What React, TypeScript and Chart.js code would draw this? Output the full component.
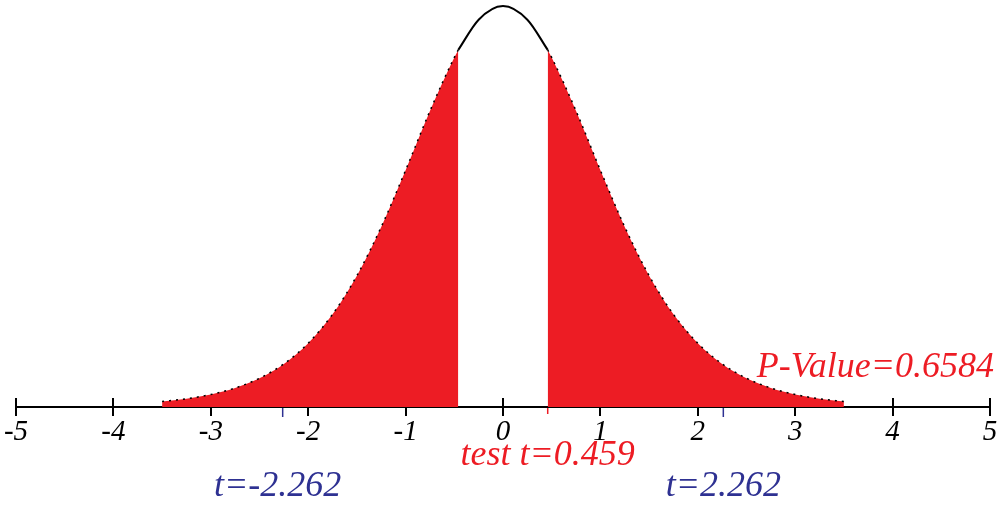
import React, { useEffect, useRef } from "react";
import { Chart, registerables } from "chart.js";

Chart.register(...registerables);

// Density curve (t distribution, 9 df)
const curveX = [-3.5, -3.25, -3, -2.75, -2.5, -2.25, -2, -1.75, -1.5, -1.25, -1, -0.75, -0.5, -0.459, -0.25, 0, 0.25, 0.459, 0.5, 0.75, 1, 1.25, 1.5, 1.75, 2, 2.25, 2.5, 2.75, 3, 3.25, 3.5];
const curveY = [0.0053, 0.008, 0.0121, 0.0184, 0.0278, 0.0417, 0.0617, 0.0897, 0.1271, 0.1743, 0.2291, 0.2865, 0.3383, 0.3456, 0.3748, 0.388, 0.3748, 0.3456, 0.3383, 0.2865, 0.2291, 0.1743, 0.1271, 0.0897, 0.0617, 0.0417, 0.0278, 0.0184, 0.0121, 0.008, 0.0053];
const tickValues = [-5, -4, -3, -2, -1, 0, 1, 2, 3, 4, 5];
const tickLabels = ["-5", "-4", "-3", "-2", "-1", "0", "1", "2", "3", "4", "5"];
const testT = 0.459;
const criticalT = 2.262;
const pValue = "0.6584";

const RED = "#ed1c24";
const BLUE = "#2e3192";

export default function App() {
  const ref = useRef<HTMLCanvasElement | null>(null);
  useEffect(() => {
    if (!ref.current) return;
    const pts = curveX.map((x, i) => ({ x, y: curveY[i] }));
    const left = pts.filter((p) => p.x <= -testT);
    const right = pts.filter((p) => p.x >= testT);
    const mid = pts.filter((p) => p.x >= -testT && p.x <= testT);

    const axisPlugin = {
      id: "axisPlugin",
      beforeDatasetsDraw(chart: any) {
        const ctx = chart.ctx;
        const xs = chart.scales.x;
        const ys = chart.scales.y;
        const y0 = ys.getPixelForValue(0);
        ctx.save();
        ctx.strokeStyle = "#000";
        ctx.lineWidth = 2;
        ctx.beginPath();
        ctx.moveTo(xs.getPixelForValue(-5), y0);
        ctx.lineTo(xs.getPixelForValue(5), y0);
        ctx.stroke();
        tickValues.forEach((v) => {
          const px = Math.round(xs.getPixelForValue(v));
          ctx.beginPath();
          ctx.moveTo(px, y0 - 9);
          ctx.lineTo(px, y0 + 9);
          ctx.stroke();
        });
        ctx.restore();
      },
      afterDatasetsDraw(chart: any) {
        const ctx = chart.ctx;
        const xs = chart.scales.x;
        const ys = chart.scales.y;
        const y0 = ys.getPixelForValue(0);
        ctx.save();
        // critical ticks
        ctx.strokeStyle = BLUE;
        ctx.lineWidth = 1.5;
        [-criticalT, criticalT].forEach((v) => {
          const px = xs.getPixelForValue(v);
          ctx.beginPath();
          ctx.moveTo(px, y0 + 1);
          ctx.lineTo(px, y0 + 10);
          ctx.stroke();
        });
        ctx.strokeStyle = RED;
        const tp = xs.getPixelForValue(testT);
        ctx.beginPath();
        ctx.moveTo(tp, y0 + 1);
        ctx.lineTo(tp, y0 + 7);
        ctx.stroke();

        ctx.fillStyle = "#000";
        ctx.font = "italic 29px 'Liberation Serif'";
        ctx.textAlign = "center";
        ctx.textBaseline = "middle";
        tickValues.forEach((v, i) => {
          ctx.fillText(tickLabels[i], xs.getPixelForValue(v), y0 + 25);
        });

        ctx.font = "italic 36px 'Liberation Serif'";
        ctx.fillStyle = RED;
        ctx.textAlign = "right";
        ctx.fillText("P-Value=" + pValue, 994, y0 - 39);
        ctx.textAlign = "center";
        ctx.fillText("test t=" + testT.toFixed(3), xs.getPixelForValue(testT), y0 + 49);
        ctx.fillStyle = BLUE;
        ctx.fillText("t=-" + criticalT.toFixed(3), xs.getPixelForValue(-criticalT) - 5, y0 + 80);
        ctx.fillText("t=" + criticalT.toFixed(3), xs.getPixelForValue(criticalT), y0 + 80);
        ctx.restore();
      },
    };

    const tailStyle = {
      fill: "origin",
      backgroundColor: RED,
      borderColor: "#000",
      borderWidth: 1.5,
      borderDash: [2, 5],
      pointRadius: 0,
      cubicInterpolationMode: "monotone" as const,
    };

    const chart = new Chart(ref.current, {
      type: "line",
      data: {
        datasets: [
          { ...tailStyle, data: left } as any,
          { ...tailStyle, data: right } as any,
          {
            data: mid,
            fill: false,
            borderColor: "#000",
            borderWidth: 2,
            pointRadius: 0,
            cubicInterpolationMode: "monotone",
          } as any,
        ],
      },
      options: {
        animation: false,
        responsive: false,
        devicePixelRatio: 1,
        layout: { padding: { left: 16, right: 10, top: 4, bottom: 100 } },
        plugins: { legend: { display: false }, tooltip: { enabled: false } },
        scales: {
          x: { type: "linear", min: -5, max: 5, display: false },
          y: { type: "linear", min: 0, max: 0.39, display: false },
        },
      },
      plugins: [axisPlugin],
    });
    return () => chart.destroy();
  }, []);
  return (
    <div style={{ position: "fixed", left: 0, top: 0, width: 1000, height: 507, background: "#fff" }}>
      <canvas ref={ref} width={1000} height={507} />
    </div>
  );
}
